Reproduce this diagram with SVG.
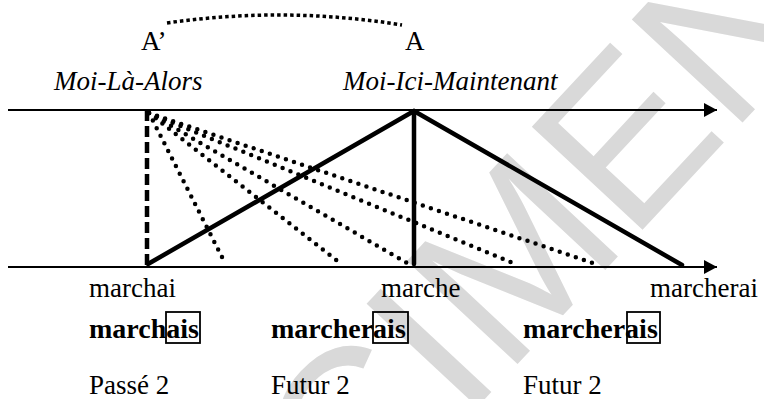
<svg xmlns="http://www.w3.org/2000/svg" width="764" height="399" viewBox="0 0 764 399">
<style>
.t{font-family:"Liberation Serif","Times New Roman",serif;font-size:27px;fill:#000}
.i{font-style:italic}
.b{font-weight:bold;font-size:28px}
.axis{stroke:#000;stroke-width:2;fill:none}
.thick{stroke:#000;stroke-width:4.5;fill:none;stroke-linecap:round}
.dot{stroke:#000;stroke-width:4.5;fill:none;stroke-linecap:round;stroke-dasharray:0 8.5}
.box{fill:none;stroke:#000;stroke-width:1.8}
.wm{font-family:"Liberation Sans",Arial,sans-serif;font-size:220px;fill:#d9d9d9}
</style>
<defs>
<marker id="ah" markerWidth="13" markerHeight="14" refX="13" refY="7" orient="auto" markerUnits="userSpaceOnUse">
<path d="M0,0 L13,7 L0,14 Z" fill="#000"/>
</marker>
</defs>
<rect width="764" height="399" fill="#fff"/>
<text class="wm" transform="translate(55,860) rotate(-47)">SPECIMEN</text>

<g id="connectors">
<path id="arc" d="M167,23 Q285,6 402,25" fill="none" stroke="#000" stroke-width="3.5" stroke-dasharray="3.5 3"/>
<line class="axis" x1="8" y1="110" x2="717" y2="110" marker-end="url(#ah)"/>
<line class="axis" x1="8" y1="267" x2="717" y2="267" marker-end="url(#ah)"/>
<line x1="147" y1="110" x2="147" y2="265" stroke="#000" stroke-width="4.5" stroke-dasharray="11 5"/>
<line class="dot" x1="149" y1="113" x2="225" y2="263"/>
<line class="dot" x1="149" y1="113" x2="340" y2="263"/>
<line class="dot" x1="149" y1="113" x2="407" y2="263"/>
<line class="dot" x1="149" y1="113" x2="513" y2="263"/>
<line class="dot" x1="149" y1="113" x2="593" y2="263"/>
<line class="thick" x1="148" y1="264" x2="414" y2="111"/>
<line class="thick" x1="414" y1="111" x2="414" y2="264"/>
<line class="thick" x1="414" y1="111" x2="682" y2="265"/>
</g>

<g id="labels-top">
<text class="t" x="141" y="50">A’</text>
<text class="t" x="405" y="50">A</text>
<text class="t i" x="54" y="90">Moi-Là-Alors</text>
<text class="t i" x="343" y="90">Moi-Ici-Maintenant</text>
</g>

<g id="node-passe">
<text class="t" x="89" y="297">marchai</text>
<text class="t b" x="89" y="338">marchais</text>
<rect class="box" x="166" y="312" width="34" height="31"/>
<text class="t" x="89" y="394">Passé 2</text>
</g>

<g id="node-present">
<text class="t" x="381" y="297">marche</text>
<text class="t b" x="271" y="338">marcherais</text>
<rect class="box" x="373" y="312" width="35" height="31"/>
<text class="t" x="271" y="394">Futur 2</text>
</g>

<g id="node-futur">
<text class="t" x="650" y="297">marcherai</text>
<text class="t b" x="523" y="338">marcherais</text>
<rect class="box" x="627" y="312" width="33" height="31"/>
<text class="t" x="523" y="394">Futur 2</text>
</g>
</svg>
